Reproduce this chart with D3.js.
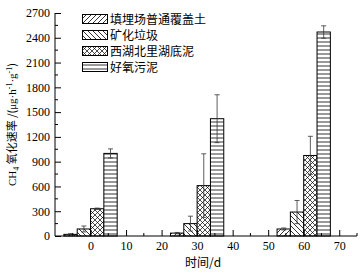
<!DOCTYPE html>
<html>
<head>
<meta charset="utf-8">
<script src="https://cdn.jsdelivr.net/npm/d3@7"></script>
<style>
  body { margin: 0; background: #fff; }
  svg { display: block; }
</style>
</head>
<body>
<div id="chart"></div>
<script>
// sampling days (x positions of each group)
const days = [0, 30, 60]

// the four sample types, in legend order
const seriesNames = ["填埋场普通覆盖土", "矿化垃圾", "西湖北里湖底泥", "好氧污泥"]

// CH4 oxidation rate per series, one value per day
const landfillCover = [20, 35, 85]
const agedRefuse = [85, 150, 290]
const lakeSediment = [330, 610, 975]
const aerobicSludge = [1000, 1420, 2470]

// standard deviations, same order
const landfillCoverErr = [8, 8, 12]
const agedRefuseErr = [36, 90, 140]
const lakeSedimentErr = [8, 385, 232]
const aerobicSludgeErr = [55, 290, 75]

const yTicks = [0, 300, 600, 900, 1200, 1500, 1800, 2100, 2400, 2700]
const xTicks = [0, 10, 20, 30, 40, 50, 60, 70]

const values = [landfillCover, agedRefuse, lakeSediment, aerobicSludge]
const errors = [landfillCoverErr, agedRefuseErr, lakeSedimentErr, aerobicSludgeErr]
const patterns = ["p-fwd", "p-back", "p-cross", "p-horiz"]

const width = 361
const height = 276
const serif = "'Liberation Serif', 'Times New Roman', serif"
const cjk = "'Noto Sans CJK SC', sans-serif"

const svg = d3.select("#chart")
    .append("svg")
    .attr("width", width)
    .attr("height", height)

// hatch patterns for the bars
const defs = svg.append("defs")
function addPattern(id, size, draw) {
    const p = defs.append("pattern")
        .attr("id", id)
        .attr("patternUnits", "userSpaceOnUse")
        .attr("width", size)
        .attr("height", size)
    p.append("rect").attr("width", size).attr("height", size).attr("fill", "#fff")
    draw(p)
}
addPattern("p-fwd", 5, p => {
    p.append("path").attr("d", "M-1,1 L1,-1 M0,5 L5,0 M4,6 L6,4")
        .attr("stroke", "#000").attr("stroke-width", 0.8)
})
addPattern("p-back", 5, p => {
    p.append("path").attr("d", "M-1,4 L1,6 M0,0 L5,5 M4,-1 L6,1")
        .attr("stroke", "#000").attr("stroke-width", 0.8)
})
addPattern("p-cross", 5, p => {
    p.append("path").attr("d", "M-1,1 L1,-1 M0,5 L5,0 M4,6 L6,4 M-1,4 L1,6 M0,0 L5,5 M4,-1 L6,1")
        .attr("stroke", "#000").attr("stroke-width", 0.7)
})
addPattern("p-horiz", 4, p => {
    p.append("path").attr("d", "M0,2 L4,2")
        .attr("stroke", "#000").attr("stroke-width", 0.8)
})

// scales
const x = d3.scaleLinear().domain([-10, 75]).range([55, 357])
const y = d3.scaleLinear().domain([0, 2700]).range([236, 13])

// offset of each series inside a group, in days
const inner = d3.scaleBand()
    .domain(d3.range(seriesNames.length))
    .range([-7.5, 7.5])

// bars
const groups = svg.selectAll("g.series")
    .data(values)
    .join("g")
    .attr("class", "series")
    .attr("fill", (d, i) => `url(#${patterns[i]})`)

groups.selectAll("rect")
    .data((d, i) => d.map((v, j) => ({v, day: days[j], s: i})))
    .join("rect")
    .attr("x", d => x(d.day + inner(d.s)))
    .attr("width", d => x(d.day + inner(d.s) + inner.bandwidth()) - x(d.day + inner(d.s)))
    .attr("y", d => y(d.v))
    .attr("height", d => y(0) - y(d.v))
    .attr("stroke", "#000")
    .attr("stroke-width", 1)

// error bars
const errData = []
values.forEach((vals, i) => vals.forEach((v, j) => {
    errData.push({v, e: errors[i][j], cx: x(days[j] + inner(i) + inner.bandwidth() / 2)})
}))
const err = svg.append("g").attr("stroke", "#333").attr("stroke-width", 0.8)
err.selectAll("line.v")
    .data(errData)
    .join("line")
    .attr("x1", d => d.cx).attr("x2", d => d.cx)
    .attr("y1", d => y(d.v - d.e)).attr("y2", d => y(d.v + d.e))
err.selectAll("line.t")
    .data(errData)
    .join("line")
    .attr("x1", d => d.cx - 2.5).attr("x2", d => d.cx + 2.5)
    .attr("y1", d => y(d.v + d.e)).attr("y2", d => y(d.v + d.e))
err.selectAll("line.b")
    .data(errData)
    .join("line")
    .attr("x1", d => d.cx - 2.5).attr("x2", d => d.cx + 2.5)
    .attr("y1", d => y(d.v - d.e)).attr("y2", d => y(d.v - d.e))

// y axis with inward ticks
const yAxis = svg.append("g")
    .attr("transform", `translate(${x(-10)},0)`)
    .call(d3.axisLeft(y).tickValues(yTicks).tickFormat(d3.format("d")).tickSize(-6).tickPadding(5))
yAxis.append("g")
    .selectAll("line")
    .data(d3.range(150, 2700, 300))
    .join("line")
    .attr("x1", 0).attr("x2", 3)
    .attr("y1", d => y(d)).attr("y2", d => y(d))
    .attr("stroke", "#000")

// x axis with inward ticks
const xAxis = svg.append("g")
    .attr("transform", `translate(0,${y(0)})`)
    .call(d3.axisBottom(x).tickValues(xTicks).tickFormat(d3.format("d")).tickSize(-6).tickPadding(5))
xAxis.append("g")
    .selectAll("line")
    .data(d3.range(-5, 76, 10))
    .join("line")
    .attr("x1", d => x(d)).attr("x2", d => x(d))
    .attr("y1", 0).attr("y2", -3)
    .attr("stroke", "#000")

svg.selectAll(".domain").attr("d", null)
yAxis.append("line").attr("x1", 0).attr("x2", 0).attr("y1", y(0)).attr("y2", y(2700)).attr("stroke", "#000")
xAxis.append("line").attr("x1", x(-10)).attr("x2", x(75)).attr("y1", 0).attr("y2", 0).attr("stroke", "#000")

svg.selectAll(".tick text")
    .style("font-family", serif)
    .style("font-size", "12px")
    .attr("fill", "#000")

// axis titles
svg.append("text")
    .attr("x", 203)
    .attr("y", 267)
    .attr("text-anchor", "middle")
    .style("font-family", cjk)
    .style("font-size", "12px")
    .text("时间/d")

const yTitle = svg.append("text")
    .attr("transform", `translate(16,${(y(0) + y(2700)) / 2}) rotate(-90)`)
    .attr("text-anchor", "middle")
    .style("font-family", cjk)
    .style("font-size", "11px")
yTitle.append("tspan").style("font-family", serif).text("CH")
yTitle.append("tspan").style("font-family", serif).style("font-size", "8px").attr("dy", 3).text("4")
yTitle.append("tspan").attr("dy", -3).text(" 氧化速率 /(")
yTitle.append("tspan").style("font-family", serif).text("μg·h")
yTitle.append("tspan").style("font-family", serif).style("font-size", "8px").attr("dy", -4).text("-1")
yTitle.append("tspan").style("font-family", serif).attr("dy", 4).text("·g")
yTitle.append("tspan").style("font-family", serif).style("font-size", "8px").attr("dy", -4).text("-1")
yTitle.append("tspan").attr("dy", 4).text(")")

// legend
const legend = svg.append("g")
    .selectAll("g")
    .data(seriesNames)
    .join("g")
    .attr("transform", (d, i) => `translate(82,${19 + i * 16})`)
legend.append("rect")
    .attr("x", 0.5).attr("y", -4.5)
    .attr("width", 25).attr("height", 9)
    .attr("fill", (d, i) => `url(#${patterns[i]})`)
    .attr("stroke", "#000")
legend.append("text")
    .attr("x", 28)
    .attr("y", 4.5)
    .style("font-family", cjk)
    .style("font-size", "12px")
    .text(d => d)
</script>
</body>
</html>
